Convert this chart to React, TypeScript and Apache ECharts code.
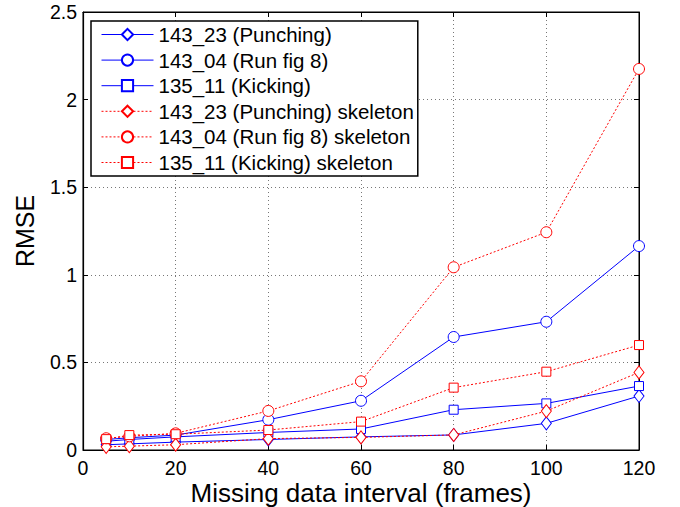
import React, { useEffect, useRef } from "react";
import * as echarts from "echarts";

const xValues = [5, 10, 20, 40, 60, 80, 100, 120];
const seriesNames = [
  "143_23 (Punching)",
  "143_04 (Run fig 8)",
  "135_11 (Kicking)",
  "143_23 (Punching) skeleton",
  "143_04 (Run fig 8) skeleton",
  "135_11 (Kicking) skeleton",
];
const punching = [0.03, 0.035, 0.045, 0.06, 0.075, 0.086, 0.152, 0.308];
const runFig8 = [0.06, 0.07, 0.085, 0.173, 0.281, 0.645, 0.732, 1.164];
const kicking = [0.05, 0.06, 0.075, 0.1, 0.12, 0.23, 0.266, 0.365];
const punchingSkel = [0.018, 0.022, 0.03, 0.065, 0.072, 0.086, 0.222, 0.443];
const runFig8Skel = [0.067, 0.078, 0.095, 0.223, 0.392, 1.043, 1.243, 2.175];
const kickingSkel = [0.062, 0.085, 0.09, 0.114, 0.162, 0.356, 0.447, 0.599];
const xTicks = [0, 20, 40, 60, 80, 100, 120];
const yTicks = [0, 0.5, 1, 1.5, 2, 2.5];

const seriesData = [punching, runFig8, kicking, punchingSkel, runFig8Skel, kickingSkel];
const symbols = ["diamond", "circle", "rect", "diamond", "circle", "rect"];
const symbolSizes: any[] = [[10, 13], 11, 9, [10, 13], 11, 9];
const colors = ["#0000ff", "#0000ff", "#0000ff", "#ff0000", "#ff0000", "#ff0000"];
const FONT = "'Liberation Sans', Arial, Helvetica, sans-serif";

export default function App() {
  const ref = useRef<HTMLDivElement>(null);
  useEffect(() => {
    if (!ref.current) return;
    const chart = echarts.init(ref.current, null, { renderer: "svg" });
    const gridLine = { show: true, lineStyle: { color: "#777", type: [1, 3] as any, width: 1 } };
    const xBase = {
      type: "value" as const,
      min: 0,
      max: 120,
      interval: 20,
    };
    const yBase = {
      type: "value" as const,
      min: 0,
      max: 2.5,
      interval: 0.5,
    };
    chart.setOption({
      animation: false,
      backgroundColor: "#fff",
      textStyle: { fontFamily: FONT },
      grid: {
        left: 83,
        right: 41,
        top: 12,
        bottom: 57,
        show: true,
        borderColor: "#000",
        borderWidth: 1,
        backgroundColor: "transparent",
        containLabel: false,
        outerBoundsMode: "none",
      },
      legend: {
        orient: "vertical",
        left: 91,
        top: 21,
        align: "left",
        padding: [3, 4, 3, 10],
        itemGap: 4.6,
        itemWidth: 52,
        itemHeight: 14,
        backgroundColor: "#fff",
        borderColor: "#000",
        borderWidth: 1.5,
        lineStyle: { width: 1 },
        textStyle: { fontSize: 20.5, fontFamily: FONT, color: "#000", lineHeight: 20 },
        data: seriesNames,
      },
      xAxis: [
        {
          ...xBase,
          position: "bottom",
          name: "Missing data interval (frames)",
          nameLocation: "middle",
          nameGap: 32,
          nameMoveOverlap: false,
          nameTextStyle: {
            fontSize: 26,
            lineHeight: 22,
            color: "#000",
            fontFamily: FONT,
            verticalAlign: "top",
          },
          axisLine: { show: true, onZero: false, lineStyle: { color: "#000", width: 1.2 } },
          axisTick: { show: true, inside: true, length: 5, lineStyle: { color: "#000" } },
          axisLabel: {
            fontSize: 19.5,
            lineHeight: 18,
            color: "#000",
            margin: 9,
            customValues: xTicks,
          },
          splitLine: gridLine,
        },
        {
          ...xBase,
          position: "top",
          axisLine: { show: true, onZero: false, lineStyle: { color: "#000" } },
          axisTick: { show: true, inside: true, length: 5, lineStyle: { color: "#000" } },
          axisLabel: { show: false },
          splitLine: { show: false },
        },
      ],
      yAxis: [
        {
          ...yBase,
          position: "left",
          name: "RMSE",
          nameLocation: "middle",
          nameGap: 46,
          nameMoveOverlap: false,
          nameTextStyle: { fontSize: 25, color: "#000", fontFamily: FONT },
          axisLine: { show: true, onZero: false, lineStyle: { color: "#000", width: 1.2 } },
          axisTick: { show: true, inside: true, length: 5, lineStyle: { color: "#000" } },
          axisLabel: {
            fontSize: 19.5,
            color: "#000",
            margin: 6,
            customValues: yTicks,
          },
          splitLine: gridLine,
        },
        {
          ...yBase,
          position: "right",
          axisLine: { show: true, onZero: false, lineStyle: { color: "#000" } },
          axisTick: { show: true, inside: true, length: 5, lineStyle: { color: "#000" } },
          axisLabel: { show: false },
          splitLine: { show: false },
        },
      ],
      series: seriesNames.map((name, i) => ({
        name,
        type: "line",
        xAxisIndex: 0,
        yAxisIndex: 0,
        data: xValues.map((x, j) => [x, seriesData[i][j]]),
        symbol: symbols[i],
        symbolSize: symbolSizes[i],
        showAllSymbol: true,
        color: colors[i],
        itemStyle: { color: "#fff", borderColor: colors[i], borderWidth: 1 },
        lineStyle: {
          color: colors[i],
          width: 1,
          type: i >= 3 ? ([2, 2] as any) : "solid",
        },
        z: i >= 3 ? 3 : 2,
      })),
    });
    return () => chart.dispose();
  }, []);
  return <div ref={ref} style={{ width: 680, height: 507, position: "absolute", left: 0, top: 0 }} />;
}
